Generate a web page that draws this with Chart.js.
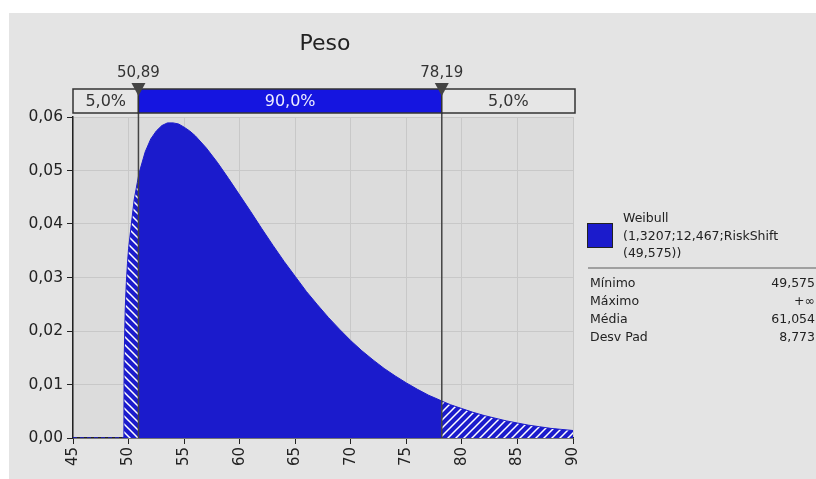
<!DOCTYPE html>
<html>
<head>
<meta charset="utf-8">
<script src="https://cdn.jsdelivr.net/npm/chart.js@4"></script>
<style>
  body { margin: 0; background: #fff; font-family: "DejaVu Sans", sans-serif; }
  #panel { position: absolute; left: 9px; top: 13px; width: 807px; height: 466px; background: #e4e4e4; overflow: hidden; }
  #chart { position: absolute; left: 0; top: 0; }
  #title { position: absolute; left: 216px; top: 17px; width: 200px; text-align: center; font-size: 22px; line-height: 26px; color: #222; }
  #swatch { position: absolute; left: 578px; top: 210px; width: 24px; height: 23px; background: #1b1bcc; border: 1.5px solid #222; }
  #legtext { position: absolute; left: 614px; top: 196px; font-size: 12.5px; line-height: 17.5px; color: #222; }
  #sep { position: absolute; left: 579px; top: 254px; width: 228px; height: 2px; background: #a0a0a0; }
  #stats { position: absolute; left: 581px; top: 261px; width: 225px; font-size: 12.5px; line-height: 18px; color: #222; }
  #stats div { display: flex; justify-content: space-between; }
</style>
</head>
<body>
<div id="panel">
  <canvas id="chart" width="585" height="466"></canvas>
  <div id="title">Peso</div>
  <div id="swatch"></div>
  <div id="legtext"></div>
  <div id="sep"></div>
  <div id="stats"></div>
</div>
<script>
// x values (Peso) and density
const xs = [49.575, 49.6, 49.7, 49.8, 49.9, 50, 50.5, 50.89, 51, 51.5, 52, 52.5, 53, 53.5, 54, 54.5, 55, 55.5, 56,
  57, 58, 59, 60, 61, 62, 63, 64, 65, 66, 67, 68, 69, 70, 71, 72, 73, 74, 75, 76, 77, 78, 78.19,
  79, 80, 81, 82, 83, 84, 85, 86, 87, 88, 89, 90];
const density = [0, 0.0145, 0.0241, 0.0291, 0.0326, 0.0354, 0.0445, 0.0489, 0.0499, 0.0535, 0.0559, 0.0574, 0.0584, 0.0589, 0.0589, 0.0587, 0.0581, 0.0574, 0.0565,
  0.0542, 0.0515, 0.0485, 0.0454, 0.0423, 0.0391, 0.0360, 0.0330, 0.0302, 0.0274, 0.0249, 0.0225, 0.0203, 0.0182, 0.0163, 0.0146, 0.0130, 0.0116, 0.0103, 0.0091, 0.0080, 0.0071, 0.0069,
  0.0062, 0.0055, 0.0048, 0.0042, 0.0037, 0.0032, 0.0028, 0.0024, 0.0021, 0.0018, 0.0016, 0.0014];
const cuts = [50.89, 78.19];
const cutLabels = ['50,89', '78,19'];
const bandLabels = ['5,0%', '90,0%', '5,0%'];
const xTicks = [45, 50, 55, 60, 65, 70, 75, 80, 85, 90];
const yTicks = [0, 0.01, 0.02, 0.03, 0.04, 0.05, 0.06];
const legendLines = ['Weibull', '(1,3207;12,467;RiskShift', '(49,575))'];
const statNames = ['Mínimo', 'Máximo', 'Média', 'Desv Pad'];
const statValues = ['49,575', '+∞', '61,054', '8,773'];

const BLUE = '#1b1bcc';

document.getElementById('legtext').innerHTML = legendLines.join('<br>');
document.getElementById('stats').innerHTML = statNames.map((n, i) =>
  '<div><span>' + n + '</span><span>' + statValues[i] + '</span></div>').join('');

function hatch(dir) {
  const c = document.createElement('canvas');
  c.width = c.height = 8;
  const g = c.getContext('2d');
  g.fillStyle = BLUE;
  g.fillRect(0, 0, 8, 8);
  g.strokeStyle = '#fff';
  g.lineWidth = 1.5;
  g.beginPath();
  if (dir > 0) {
    g.moveTo(-2, 10); g.lineTo(10, -2);
    g.moveTo(-2, 2); g.lineTo(2, -2);
    g.moveTo(6, 10); g.lineTo(10, 6);
  } else {
    g.moveTo(-2, -2); g.lineTo(10, 10);
    g.moveTo(6, -2); g.lineTo(10, 2);
    g.moveTo(-2, 6); g.lineTo(2, 10);
  }
  g.stroke();
  return g.createPattern(c, 'repeat');
}

const pts = xs.map((x, i) => ({ x: x, y: density[i] }));
const leftPts = pts.filter(p => p.x <= cuts[0]);
const midPts = pts.filter(p => p.x >= cuts[0] && p.x <= cuts[1]);
const rightPts = pts.filter(p => p.x >= cuts[1]);

const area = (data, bg) => ({
  data: data, showLine: true, fill: 'origin', backgroundColor: bg,
  borderColor: BLUE, borderWidth: 1, pointRadius: 0, tension: 0
});

const overlay = {
  id: 'overlay',
  beforeDraw(chart) {
    const a = chart.chartArea, ctx = chart.ctx;
    ctx.save();
    ctx.fillStyle = '#dcdcdc';
    ctx.fillRect(a.left, a.top, a.right - a.left, a.bottom - a.top);
    ctx.restore();
  },
  afterDatasetsDraw(chart) {
    const a = chart.chartArea, ctx = chart.ctx, sx = chart.scales.x;
    const L = sx.getPixelForValue(cuts[0]), R = sx.getPixelForValue(cuts[1]);
    const x0 = a.left, x1 = a.right + 2, top = 76, bot = 100;
    ctx.save();
    // cut lines
    ctx.strokeStyle = '#444';
    ctx.lineWidth = 1.5;
    [L, R].forEach(x => { ctx.beginPath(); ctx.moveTo(x, 80); ctx.lineTo(x, a.bottom); ctx.stroke(); });
    // band bar
    const segs = [[x0, L, '#e6e6e6', '#333'], [L, R, '#1515e0', '#ececff'], [R, x1, '#e6e6e6', '#333']];
    ctx.font = '16px "DejaVu Sans"';
    ctx.textAlign = 'center';
    ctx.textBaseline = 'middle';
    segs.forEach((s, i) => {
      ctx.fillStyle = s[2];
      ctx.fillRect(s[0], top, s[1] - s[0], bot - top);
      ctx.strokeStyle = '#333';
      ctx.strokeRect(s[0], top, s[1] - s[0], bot - top);
      ctx.fillStyle = s[3];
      ctx.fillText(bandLabels[i], (s[0] + s[1]) / 2, 89);
    });
    // markers
    ctx.font = '15px "DejaVu Sans"';
    [L, R].forEach((x, i) => {
      ctx.fillStyle = '#444';
      ctx.beginPath();
      ctx.moveTo(x - 7, 70); ctx.lineTo(x + 7, 70); ctx.lineTo(x, 83); ctx.closePath();
      ctx.fill();
      ctx.fillStyle = '#333';
      ctx.fillText(cutLabels[i], x, 60);
    });
    ctx.restore();
  }
};

new Chart(document.getElementById('chart'), {
  type: 'scatter',
  data: {
    datasets: [
      { data: [{ x: xTicks[0], y: 0 }, { x: xs[0], y: 0 }], showLine: true, borderColor: BLUE, borderWidth: 1.5,
        borderDash: [4, 3], pointRadius: 0, fill: false },
      area(leftPts, hatch(-1)),
      area(midPts, BLUE),
      area(rightPts, hatch(1))
    ]
  },
  options: {
    responsive: false,
    animation: false,
    layout: { padding: { top: 104, right: 1, left: 0, bottom: 0 } },
    plugins: { legend: { display: false }, tooltip: { enabled: false } },
    scales: {
      x: {
        type: 'linear', min: xTicks[0], max: xTicks[xTicks.length - 1],
        afterFit(s) { s.height = 41; },
        afterBuildTicks(s) { s.ticks = xTicks.map(v => ({ value: v })); },
        ticks: { color: '#222', font: { family: 'DejaVu Sans', size: 15 }, maxRotation: 90, minRotation: 90, padding: 3,
          callback: v => String(v) },
        grid: { color: '#c8c8c8', tickColor: '#222', tickLength: 6 },
        border: { color: '#222', width: 1.5 }
      },
      y: {
        min: 0, max: 0.06,
        afterFit(s) { s.width = 64; },
        afterBuildTicks(s) { s.ticks = yTicks.map(v => ({ value: v })); },
        ticks: { color: '#222', font: { family: 'DejaVu Sans', size: 15.5 }, padding: 4,
          callback: v => v.toFixed(2).replace('.', ',') },
        grid: { color: '#c8c8c8', tickColor: '#222', tickLength: 6 },
        border: { color: '#222', width: 1.5 }
      }
    }
  },
  plugins: [overlay]
});
</script>
</body>
</html>
